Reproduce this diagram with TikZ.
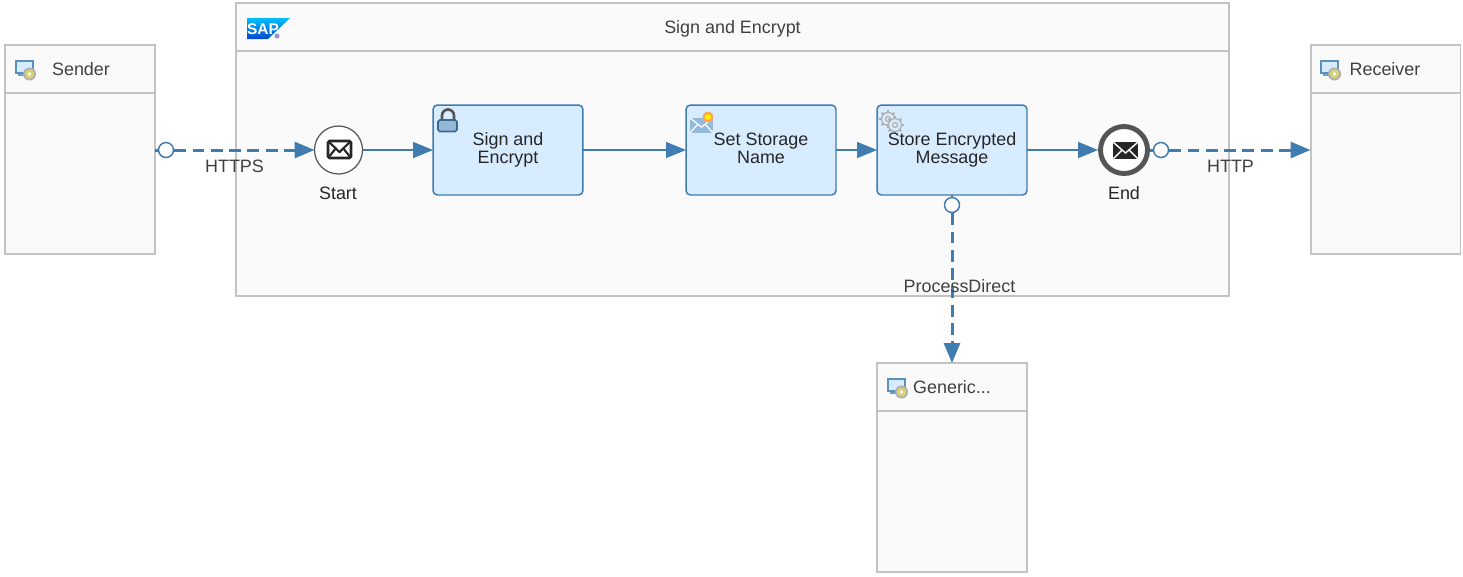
\documentclass[tikz,border=0pt]{standalone}
\usepackage{fontspec}
\setmainfont{Liberation Sans}
\usetikzlibrary{arrows.meta}
\definecolor{flow}{RGB}{64, 124, 175}
\definecolor{edge}{RGB}{195, 195, 195}
\definecolor{panel}{RGB}{250, 250, 250}
\definecolor{task}{RGB}{216, 236, 255}
\definecolor{ink}{RGB}{64, 64, 64}
\definecolor{event}{RGB}{85, 85, 85}
\tikzset{
  panelbox/.style={draw=edge, fill=panel, line width=1.1pt, minimum width=3cm, inner sep=0, outer sep=0},
  taskbox/.style={draw=flow, fill=task, line width=0.85pt, rounded corners=2.5pt, minimum width=3cm, minimum height=1.8cm, outer sep=0},
  tasktext/.style={align=center, text=black!85, font=\fontsize{10.2}{10.2}\selectfont},
  startevent/.style={circle, draw=event, fill=white, line width=0.7pt, minimum size=0.96cm, inner sep=0, outer sep=0},
  endevent/.style={circle, draw=event, fill=white, line width=2.8pt, minimum size=0.94cm, inner sep=0},
  port/.style={circle, draw=flow, fill=white, line width=0.85pt, minimum size=0.3cm, inner sep=0},
  txt/.style={text=ink, font=\fontsize{10.2}{10.2}\selectfont},
  solidflow/.style={flow, line width=0.9pt, -{Triangle[length=0.4cm, width=0.32cm]}},
  dashflow/.style={flow, line width=1.7pt, dash pattern=on 6.8pt off 3.6pt, -{Triangle[length=0.4cm, width=0.32cm]}},
  monitoricon/.pic={
    \draw[flow!85, fill=task, line width=1pt] (0, 0) rectangle (17, 12);
    \draw[flow!75, line width=1pt] (2, 14) -- (11, 14);
    \fill[edge!90!black] (13.5, 13) circle (6.5);
    \fill[yellow!55!gray!80] (13.5, 13) circle (4.8);
    \fill[white] (13.5, 13) circle (1.8);
  }
}

\begin{document}
\begin{tikzpicture}[x=0.02cm, y=-0.02cm]
  \useasboundingbox (0, 0) rectangle (1463, 576);

  % integration process
  \node[panelbox, minimum width=19.86cm, minimum height=0.96cm] (mainhead) at (732.5, 27) {};
  \node[panelbox, minimum width=19.86cm, minimum height=4.9cm] (mainbody) at (732.5, 173.5) {};
  \node[txt] (maintitle) at (732.5, 28.5) {Sign and Encrypt};

  % participants
  \node[panelbox, minimum height=0.96cm] (senderhead) at (80, 69) {};
  \node[panelbox, minimum height=3.22cm] (senderbody) at (80, 173.5) {};
  \node[txt] (sendertext) at (81, 69) {Sender};
  \node[panelbox, minimum height=0.96cm] (receiverhead) at (1385.5, 69) {};
  \node[panelbox, minimum height=3.22cm] (receiverbody) at (1385.5, 173.5) {};
  \node[txt] (receivertext) at (1385, 69) {Receiver};
  \node[panelbox, minimum height=0.96cm] (generichead) at (952, 387) {};
  \node[panelbox, minimum height=3.22cm] (genericbody) at (952, 491.5) {};
  \node[txt] (generictext) at (952, 387) {Generic...};
  \pic at (16, 61) {monitoricon};
  \pic at (1321, 61) {monitoricon};
  \pic at (888, 379) {monitoricon};

  % SAP logo
  \shade[top color=cyan!75!blue, bottom color=blue!65!cyan!80!black] (247, 18) -- (290, 18) -- (268, 39) -- (247, 39) -- cycle;
  \node[white, font=\fontsize{8.8}{8.8}\bfseries\selectfont, inner sep=0] (saplogo) at (263, 29) {SAP};
  \fill[blue!40!gray!60] (277, 36) circle (2.5);

  % flow steps
  \node[startevent] (start) at (338.5, 150) {};
  \node[taskbox] (signenc) at (508, 150) {};
  \node[taskbox] (setname) at (761, 150) {};
  \node[taskbox] (store) at (952, 150) {};
  \node[endevent] (end) at (1124, 150) {};
  \node[txt, text=black!85] (starttext) at (338, 193) {Start};
  \node[txt, text=black!85] (endtext) at (1124, 193) {End};

  % envelopes
  \draw[black!85, fill=white, line width=1.6pt, rounded corners=1pt] (328, 141) rectangle (351, 158);
  \draw[black!85, line width=1.2pt] (328, 141) -- (339.5, 152) -- (351, 141) (328, 158) -- (336, 148) (351, 158) -- (343, 148);
  \fill[black!85] (1113, 142) rectangle (1138, 159);
  \draw[white, line width=0.8pt] (1113, 142) -- (1125.5, 153) -- (1138, 142) (1113, 159) -- (1122, 150) (1138, 159) -- (1129, 150);

  % task icons
  \draw[event, line width=1.5pt] (442, 120) -- (442, 115.5) arc (180:360:6) -- (454, 120);
  \draw[flow!85!black, fill=flow!55, line width=0.9pt, rounded corners=1pt] (438, 120) rectangle (457, 131.5);
  \fill[flow!45!task] (690, 118) rectangle (713, 133);
  \draw[white, line width=0.7pt] (690, 118) -- (701.5, 127) -- (713, 118) (690, 133) -- (698, 124) (713, 133) -- (705, 124);
  \fill[orange!70] (708, 117) circle (5.5);
  \fill[yellow] (708, 117) circle (3);
  \foreach \cx/\cy in {888/119, 895/125} {
    \foreach \a in {0, 45, ..., 315} {
      \draw[edge!90!black, line width=1.3pt] (\cx, \cy) ++(\a:6) -- ++(\a:2.8);
    }
    \draw[edge!90!black, fill=task, line width=0.7pt] (\cx, \cy) circle (6.5);
    \draw[edge!90!black, line width=0.7pt] (\cx, \cy) circle (2.5);
  }

  % task texts
  \node[tasktext] (signtext) at (508, 150) {Sign and\\Encrypt};
  \node[tasktext] (settext) at (761, 150) {Set Storage\\Name\vphantom{g}};
  \node[tasktext] (storetext) at (952, 150) {Store Encrypted\\Message};

  % ports
  \node[port] (portsender) at (166, 150) {};
  \node[port] (portend) at (1161, 150) {};
  \node[port] (portstore) at (952, 205) {};

  % connectors
  \draw[flow, line width=1.7pt] (senderbody.east |- portsender) -- (portsender);
  \draw[dashflow] (portsender) -- (start);
  \draw[solidflow] (start) -- (signenc);
  \draw[solidflow] (signenc) -- (setname);
  \draw[solidflow] (setname) -- (store);
  \draw[solidflow] (store) -- (end);
  \draw[flow, line width=1.7pt] (end) -- (portend);
  \draw[dashflow] (portend) -- (receiverbody.west |- portend);
  \draw[flow, line width=0.85pt] (store.south) -- (portstore);
  \draw[dashflow] (portstore) -- (generichead);

  % connector labels
  \node[txt] (httpstext) at (234.5, 166) {HTTPS};
  \node[txt] (httptext) at (1230.5, 166) {HTTP};
  \node[txt] (directtext) at (959.5, 286) {ProcessDirect};
\end{tikzpicture}
\end{document}
